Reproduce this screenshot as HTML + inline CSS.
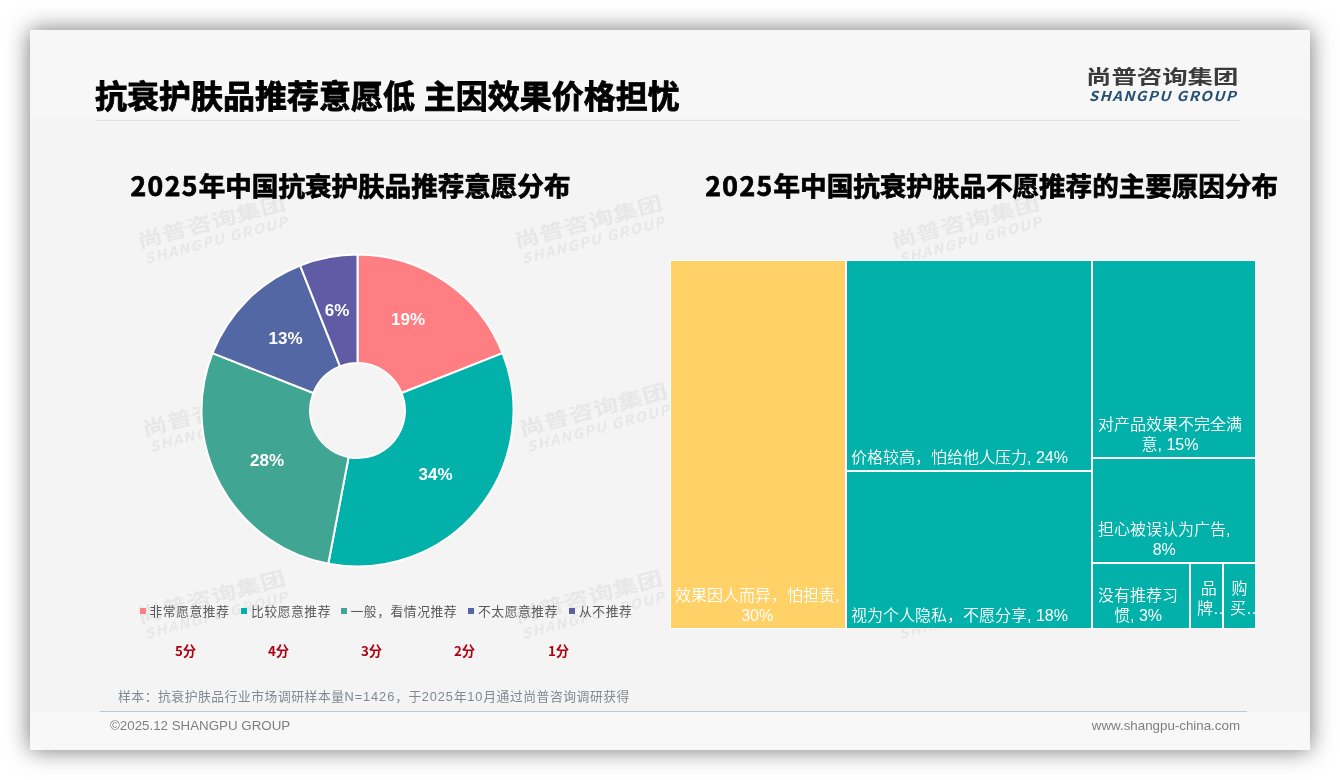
<!DOCTYPE html>
<html lang="zh-CN">
<head>
<meta charset="utf-8">
<title>抗衰护肤品推荐意愿低 主因效果价格担忧</title>
<style>
html,body{margin:0;padding:0;}
body{width:1340px;height:780px;background:#ffffff;position:relative;overflow:hidden;
 font-family:"Liberation Sans","Noto Sans CJK SC",sans-serif;}
.abs{position:absolute;white-space:nowrap;}
#slide{position:absolute;left:30px;top:30px;width:1280px;height:720px;background:#f4f4f4;
 box-shadow:0 0 22px rgba(0,0,0,0.55);overflow:hidden;}
#hdr{position:absolute;left:0;top:0;width:1280px;height:89px;background:#f7f7f7;}
#ftr{position:absolute;left:0;top:682px;width:1280px;height:38px;background:#f8f8f8;}
#title{left:95px;top:71px;font-size:32px;line-height:46px;font-weight:700;color:#000;
 font-family:"Noto Sans CJK SC","Liberation Sans",sans-serif;word-spacing:1.5px;-webkit-text-stroke:0.85px #000;}
.dg{letter-spacing:1.4px;}
.nl{letter-spacing:0.9px;}
.sub{font-size:26.55px;line-height:38px;font-weight:700;color:#000;-webkit-text-stroke:0.75px #000;
 font-family:"Noto Sans CJK SC","Liberation Sans",sans-serif;}
#topline{left:95px;top:120px;width:1145px;height:1px;background:#e2e2e2;}
#botline{left:100px;top:711px;width:1147px;height:1px;background:#b9c9d9;}
.lgo{position:absolute;width:150px;height:40px;white-space:nowrap;}
.lc{position:absolute;left:0;top:0;font-size:19.5px;line-height:24px;font-weight:700;color:#3b3b3b;
 font-family:"Noto Sans CJK SC",sans-serif;transform:scaleX(1.302);transform-origin:0 0;}
.le{position:absolute;left:2.5px;top:22px;font-size:15px;line-height:18px;font-weight:700;font-style:italic;color:#264f73;letter-spacing:1.35px;transform:scaleY(0.9);transform-origin:0 14px;
 font-family:"Noto Sans CJK SC","Liberation Sans",sans-serif;}
.wm{transform:rotate(-15deg);transform-origin:75px 20px;}
.wm .lc,.wm .le{color:#e7e7e7;}
.pl{font-family:"Liberation Sans",sans-serif;font-weight:700;font-size:17px;fill:#fff;text-anchor:middle;}
.lg{font-size:12.8px;letter-spacing:0.53px;line-height:18px;color:#595959;font-family:"Noto Sans CJK SC","Liberation Sans",sans-serif;}
.mk{position:absolute;width:6px;height:6px;top:608px;}
.sc{font-size:13.33px;line-height:18px;font-weight:700;color:#b00010;font-family:"Noto Sans CJK SC","Liberation Sans",sans-serif;}
#note{left:118px;top:688px;font-size:12.8px;letter-spacing:0.53px;line-height:18px;color:#7f8893;font-family:"Liberation Sans","Noto Sans CJK SC",sans-serif;}
.ft{font-size:13.33px;line-height:16px;color:#7f7f7f;font-family:"Liberation Sans",sans-serif;}
.tm{position:absolute;background:#02B1A9;}
.tl{position:absolute;color:#fff;font-size:16px;line-height:20px;text-align:center;white-space:nowrap;
 font-family:"Liberation Sans","Noto Sans CJK SC",sans-serif;font-weight:350;}
</style>
</head>
<body>
<div id="slide"><div id="hdr"></div><div id="ftr"></div></div>
<div class="abs" id="topline"></div>
<div class="lgo wm" style="left:137px;top:209.3px"><div class="lc">尚普咨询集团</div><div class="le">SHANGPU GROUP</div></div>
<div class="lgo wm" style="left:514px;top:209.3px"><div class="lc">尚普咨询集团</div><div class="le">SHANGPU GROUP</div></div>
<div class="lgo wm" style="left:891px;top:209.3px"><div class="lc">尚普咨询集团</div><div class="le">SHANGPU GROUP</div></div>
<div class="lgo wm" style="left:141.5px;top:397px"><div class="lc">尚普咨询集团</div><div class="le">SHANGPU GROUP</div></div>
<div class="lgo wm" style="left:518.5px;top:397px"><div class="lc">尚普咨询集团</div><div class="le">SHANGPU GROUP</div></div>
<div class="lgo wm" style="left:895.5px;top:397px"><div class="lc">尚普咨询集团</div><div class="le">SHANGPU GROUP</div></div>
<div class="lgo wm" style="left:137px;top:584px"><div class="lc">尚普咨询集团</div><div class="le">SHANGPU GROUP</div></div>
<div class="lgo wm" style="left:514px;top:584px"><div class="lc">尚普咨询集团</div><div class="le">SHANGPU GROUP</div></div>
<div class="lgo wm" style="left:891px;top:584px"><div class="lc">尚普咨询集团</div><div class="le">SHANGPU GROUP</div></div>
<div class="abs" id="title">抗衰护肤品推荐意愿低 主因效果价格担忧</div>
<div class="lgo" style="left:1086.3px;top:64px"><div class="lc">尚普咨询集团</div><div class="le">SHANGPU GROUP</div></div>
<div class="abs sub" style="left:130.5px;top:166.4px"><span class="dg">2025</span>年中国抗衰护肤品推荐意愿分布</div>
<div class="abs sub" style="left:705.3px;top:166.4px"><span class="dg">2025</span>年中国抗衰护肤品不愿推荐的主要原因分布</div>

<svg class="abs" style="left:0;top:0" width="1340" height="780" viewBox="0 0 1340 780">
<path d="M357.50,254.50 A156,156 0 0 1 502.55,353.07 L401.66,393.01 A47.5,47.5 0 0 0 357.50,363.00 Z" fill="#FF7E82" stroke="#ffffff" stroke-width="2" stroke-linejoin="round"/>
<path d="M502.55,353.07 A156,156 0 0 1 328.27,563.74 L348.60,457.16 A47.5,47.5 0 0 0 401.66,393.01 Z" fill="#02B1A9" stroke="#ffffff" stroke-width="2" stroke-linejoin="round"/>
<path d="M328.27,563.74 A156,156 0 0 1 212.45,353.07 L313.34,393.01 A47.5,47.5 0 0 0 348.60,457.16 Z" fill="#40A693" stroke="#ffffff" stroke-width="2" stroke-linejoin="round"/>
<path d="M212.45,353.07 A156,156 0 0 1 300.07,265.45 L340.01,366.34 A47.5,47.5 0 0 0 313.34,393.01 Z" fill="#5267A4" stroke="#ffffff" stroke-width="2" stroke-linejoin="round"/>
<path d="M300.07,265.45 A156,156 0 0 1 357.50,254.50 L357.50,363.00 A47.5,47.5 0 0 0 340.01,366.34 Z" fill="#5F5CA5" stroke="#ffffff" stroke-width="2" stroke-linejoin="round"/>

<text class="pl" x="408" y="324.6">19%</text>
<text class="pl" x="435.5" y="480.2">34%</text>
<text class="pl" x="267" y="465.7">28%</text>
<text class="pl" x="285.5" y="344.2">13%</text>
<text class="pl" x="337" y="315.7">6%</text>
</svg>

<div class="mk" style="left:140px;background:#FF7E82"></div><div class="abs lg" style="left:149.5px;top:602px">非常愿意推荐</div>
<div class="mk" style="left:241px;background:#02B1A9"></div><div class="abs lg" style="left:251px;top:602px">比较愿意推荐</div>
<div class="mk" style="left:341px;background:#40A693"></div><div class="abs lg" style="left:350.5px;top:602px">一般，看情况推荐</div>
<div class="mk" style="left:468px;background:#5267A4"></div><div class="abs lg" style="left:478px;top:602px">不太愿意推荐</div>
<div class="mk" style="left:569px;background:#5F5CA5"></div><div class="abs lg" style="left:579px;top:602px">从不推荐</div>

<div class="abs sc" style="left:175px;top:642px">5分</div>
<div class="abs sc" style="left:268px;top:642px">4分</div>
<div class="abs sc" style="left:361px;top:642px">3分</div>
<div class="abs sc" style="left:454px;top:642px">2分</div>
<div class="abs sc" style="left:548px;top:642px">1分</div>

<div class="abs" id="note">样本：抗衰护肤品行业市场调研样本量<span class="nl">N=1426</span>，于<span class="nl">2025</span>年<span class="nl">10</span>月通过尚普咨询调研获得</div>
<div class="abs" id="botline"></div>
<div class="abs ft" style="left:110px;top:717.7px">©2025.12 SHANGPU GROUP</div>
<div class="abs ft" style="right:100px;top:717.7px">www.shangpu-china.com</div>

<!-- treemap -->
<div class="abs" style="left:670px;top:260px;width:586px;height:369px;background:#fff"></div>
<div class="tm" style="left:671px;top:261px;width:174px;height:367px;background:#FFD166"></div>
<div class="tm" style="left:847px;top:261px;width:244px;height:209px"></div>
<div class="tm" style="left:847px;top:472px;width:244px;height:156px"></div>
<div class="tm" style="left:1093px;top:261px;width:162px;height:196px"></div>
<div class="tm" style="left:1093px;top:459px;width:162px;height:103px"></div>
<div class="tm" style="left:1093px;top:564px;width:96px;height:64px"></div>
<div class="tm" style="left:1191px;top:564px;width:31px;height:64px"></div>
<div class="tm" style="left:1224px;top:564px;width:31px;height:64px"></div>

<div class="tl" style="left:675px;top:586.4px">效果因人而异，怕担责,<br>30%</div>
<div class="tl" style="left:851px;top:447.8px">价格较高，怕给他人压力, 24%</div>
<div class="tl" style="left:851px;top:605.8px">视为个人隐私，不愿分享, 18%</div>
<div class="tl" style="left:1098px;top:414.6px">对产品效果不完全满<br>意, 15%</div>
<div class="tl" style="left:1098px;top:519.8px">担心被误认为广告,<br>8%</div>
<div class="tl" style="left:1098px;top:585.8px">没有推荐习<br>惯, 3%</div>
<div class="tl" style="left:1200.7px;top:578.8px;width:16px">品</div>
<div class="tl" style="left:1197px;top:598.8px;width:27.5px;overflow:hidden;text-align:left">牌…</div>
<div class="tl" style="left:1231.6px;top:578.8px;width:16px">购</div>
<div class="tl" style="left:1230px;top:598.8px;width:25px;overflow:hidden;text-align:left">买…</div>
</body>
</html>
